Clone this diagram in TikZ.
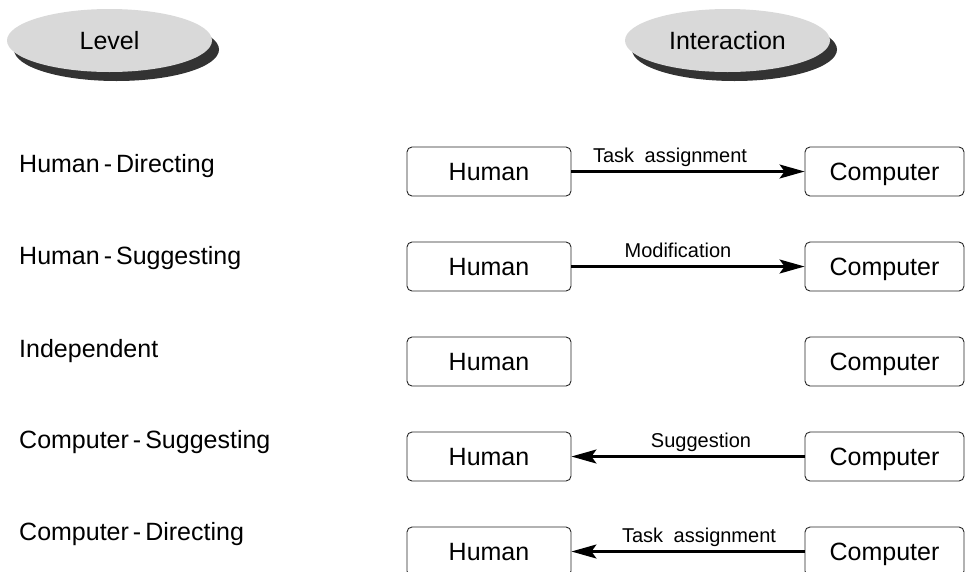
\documentclass[tikz,border=0pt]{standalone}
\usepackage{fontspec}
\setmainfont{Liberation Sans}
\usetikzlibrary{shapes.geometric,shadows,arrows.meta}
\definecolor{ellfill}{HTML}{D9D9D9}
\definecolor{ellshadow}{HTML}{333333}
\newcommand\lvlhyph{\kern4pt-\kern4pt}
\tikzset{
  headell/.style={ellipse, fill=ellfill, minimum width=205pt, minimum height=63pt, inner sep=0pt,
    font=\fontsize{25}{30}\selectfont, text height=17.9pt, text depth=0pt,
    drop shadow={shadow xshift=7pt, shadow yshift=-9pt, fill=ellshadow, opacity=1}},
  agent/.style={draw=black!85, line width=0.9pt, rounded corners=5pt, minimum height=49pt,
    inner sep=0pt, font=\fontsize{25}{30}\selectfont, text height=17.9pt, text depth=0pt},
  hbox/.style={agent, minimum width=164pt},
  cbox/.style={agent, minimum width=159pt},
  lvl/.style={anchor=base west, inner sep=0pt, font=\fontsize{25}{30}\selectfont},
  elabel/.style={anchor=base, inner sep=0pt, font=\fontsize{20}{24}\selectfont},
  flow/.style={line width=2.1pt, -{Stealth[length=25pt, width=14pt, inset=5pt]}}
}
\begin{document}
\begin{tikzpicture}[x=1pt, y=-1pt]
\useasboundingbox (0,0) rectangle (965,571);
\clip (0,0) rectangle (965,571);
% headers
\node[headell] (level) at (109.5,40.5) {Level};
\node[headell] (inter) at (727.5,40.5) {Interaction};
% level labels
\node[lvl] (l1) at (19,172) {Human\lvlhyph Directing};
\node[lvl] (l2) at (19,264) {Human\lvlhyph Suggesting};
\node[lvl] (l3) at (19,357) {Independent};
\node[lvl] (l4) at (19,448) {Computer\lvlhyph Suggesting};
\node[lvl] (l5) at (19,540) {Computer\lvlhyph Directing};
% boxes
\foreach \i/\y in {1/171.5, 2/266.5, 3/361.5, 4/456.5, 5/551.5} {
  \node[hbox] (h\i) at (489,\y) {Human};
  \node[cbox] (c\i) at (884.5,\y) {Computer};
}
% connectors
\draw[flow] (h1) -- node[elabel, yshift=9pt, xshift=-18pt] {Task\hspace{5pt} assignment} (c1);
\draw[flow] (h2) -- node[elabel, yshift=9pt, xshift=-10pt] {Modification} (c2);
\draw[flow] (c4) -- node[elabel, yshift=9pt, xshift=13pt] {Suggestion} (h4);
\draw[flow] (c5) -- node[elabel, yshift=9pt, xshift=11pt] {Task\hspace{5pt} assignment} (h5);
\end{tikzpicture}
\end{document}
